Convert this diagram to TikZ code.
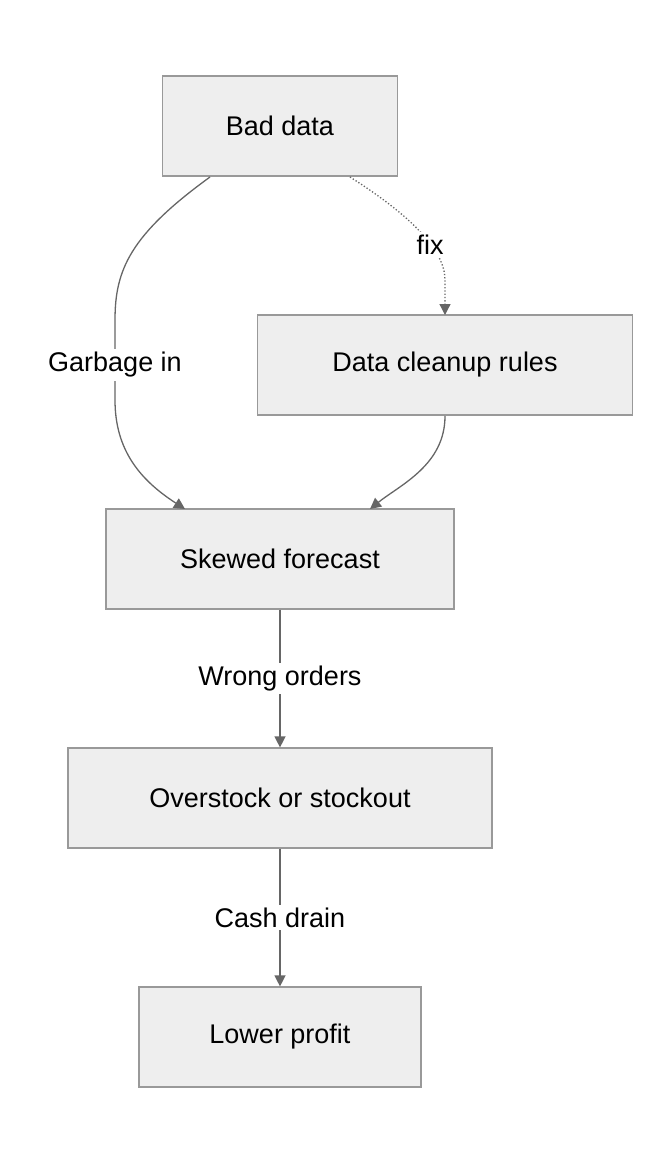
\documentclass[tikz,border=0pt]{standalone}
\usepackage{fontspec}
\setmainfont{Liberation Sans}
\usetikzlibrary{arrows.meta}
\definecolor{boxfill}{HTML}{EEEEEE}
\definecolor{boxline}{HTML}{999999}
\definecolor{edge}{HTML}{666666}
\begin{document}
\begin{tikzpicture}[x=1pt,y=-1pt,
  box/.style={draw=boxline,fill=boxfill,line width=1.2pt,minimum height=100pt,inner sep=0pt,font=\fontsize{27}{32}\selectfont},
  lbl/.style={fill=white,inner sep=3pt,font=\fontsize{27}{32}\selectfont},
  conn/.style={draw=edge,line width=1.3pt,-{Triangle[length=11pt,width=11pt]}}]
\useasboundingbox (0,0) rectangle (670,1164);
\node[box,minimum width=235pt] (bad) at (280,126) {Bad data};
\node[box,minimum width=375pt] (clean) at (445,365) {Data cleanup rules};
\node[box,minimum width=348pt] (skew) at (280,559) {Skewed forecast};
\node[box,minimum width=424pt] (over) at (280,798) {Overstock or stockout};
\node[box,minimum width=282pt] (low) at (280,1037) {Lower profit};
\coordinate (b1) at (210,177);
\coordinate (s1) at (185,509);
\draw[conn] (b1) .. controls (130,235) and (115,270) .. (115,320) -- (115,400) .. controls (115,450) and (140,480) .. (s1);
\node[lbl] (g) at (115,365) {Garbage in};
\coordinate (b2) at (350,177);
\coordinate (c2) at (445,315);
\draw[conn,dotted] (b2) .. controls (410,215) and (445,250) .. (445,280) -- (c2);
\node[lbl] (fix) at (430,245) {fix};
\coordinate (c3) at (445,416);
\coordinate (s3) at (370,509);
\draw[conn] (c3) .. controls (445,465) and (400,485) .. (s3);
\draw[conn] (skew) -- (over) node[lbl,midway] (w) {Wrong orders};
\draw[conn] (over) -- (low) node[lbl,midway] (c) {Cash drain};
\end{tikzpicture}
\end{document}
